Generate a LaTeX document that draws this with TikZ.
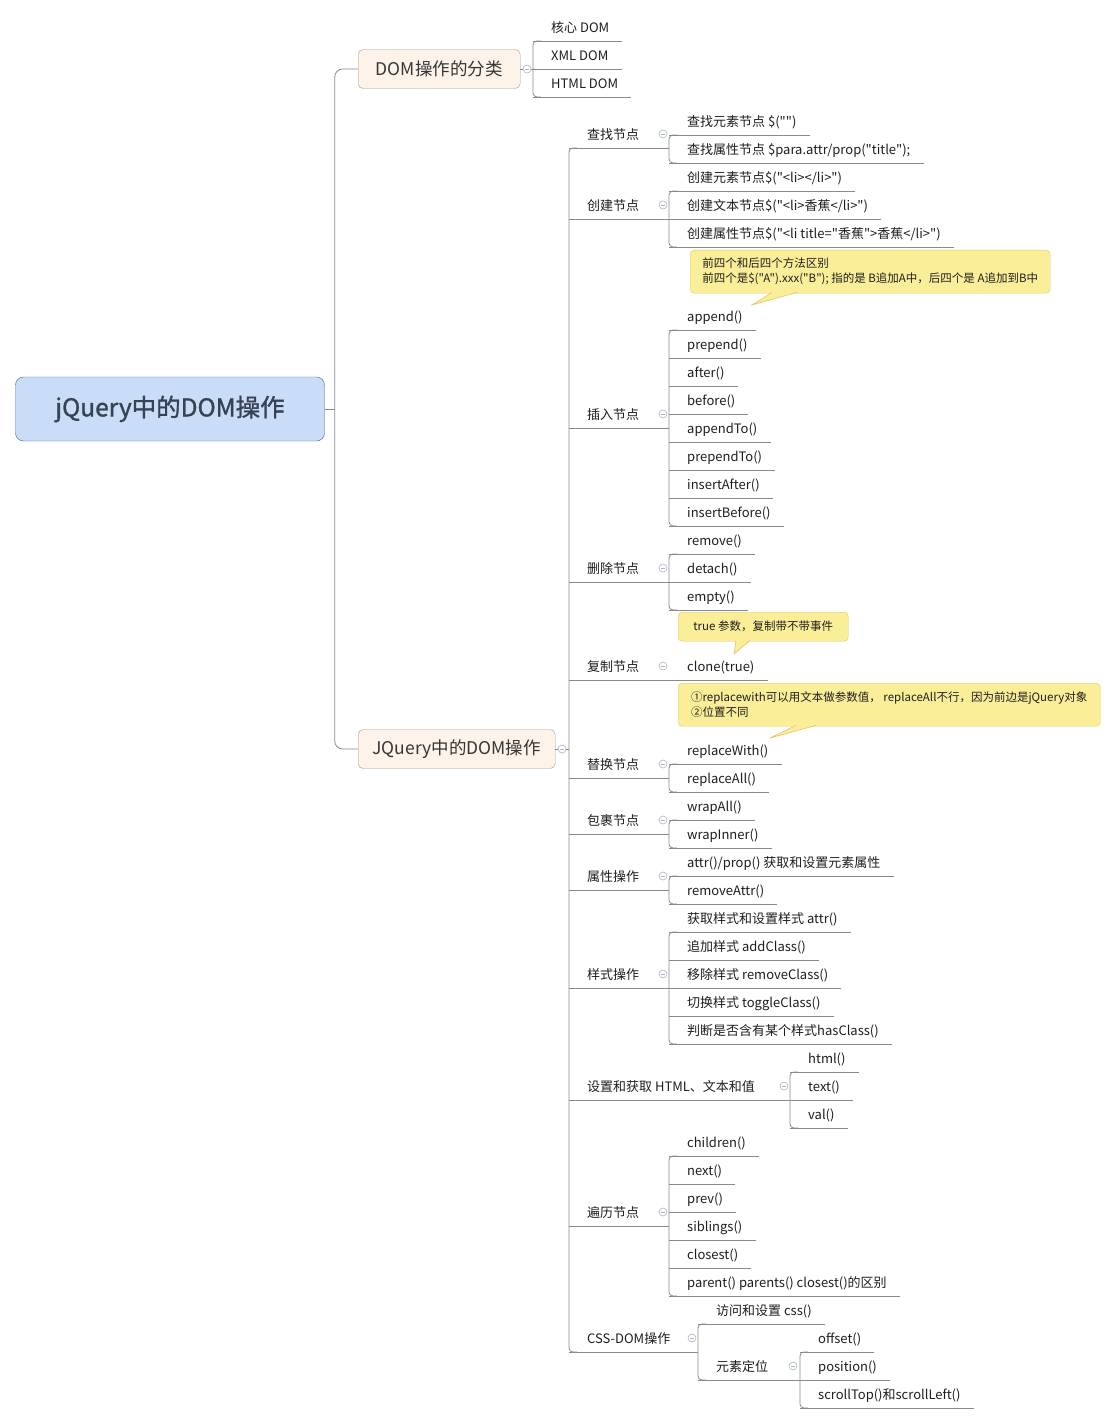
\documentclass[tikz,border=0pt]{standalone}
\usepackage{fontspec}
\usepackage{xcolor}
\newfontfamily\cjk{Noto Sans CJK SC}
\newfontfamily\cjkheavy{Noto Sans CJK SC}[FakeBold=1.2]
\definecolor{linegray}{RGB}{138,138,138}
\definecolor{rootfill}{RGB}{201,221,248}
\definecolor{rootline}{RGB}{74,99,131}
\definecolor{roottext}{RGB}{55,66,82}
\definecolor{branchfill}{RGB}{253,243,232}
\definecolor{branchline}{RGB}{165,155,145}
\definecolor{notefill}{RGB}{251,238,152}
\definecolor{noteline}{RGB}{232,195,106}
\definecolor{foldblue}{RGB}{168,180,204}
\definecolor{ink}{RGB}{30,30,30}
\newcommand{\childbar}[2]{\draw[link,rounded corners=4pt] ([xshift=8pt]#1.south west) -- (#1.south west) -- (#2.south west) -- ([xshift=8pt]#2.south west);}
\tikzstyle{link}=[draw=linegray, line width=0.8pt]
\tikzstyle{root}=[draw=rootline, fill=rootfill, rounded corners=8pt, minimum width=309pt, minimum height=64pt, text=roottext, font=\cjkheavy\fontsize{24.5}{28}\selectfont]
\tikzstyle{branch}=[draw=branchline, fill=branchfill, rounded corners=5pt, anchor=west, minimum height=39pt, text=ink!90, font=\cjk\fontsize{17.5}{20}\selectfont]
\tikzstyle{leaf}=[anchor=south west, inner xsep=0pt, inner ysep=0pt, text height=12pt, text depth=8pt, text=ink, font=\cjk\fontsize{13}{15}\selectfont, execute at begin node=\hspace*{18pt}, execute at end node=\hspace*{13pt}, append after command={(\tikzlastnode.south west) edge[link] (\tikzlastnode.south east)}]
\tikzstyle{topic}=[leaf, execute at end node=\hspace*{10pt}]
\tikzstyle{note}=[draw=noteline, fill=notefill, rounded corners=4pt, anchor=north west, align=left, inner xsep=10pt, text=ink, font=\cjk\fontsize{11.5}{15}\selectfont]
\tikzstyle{callout}=[fill=notefill, draw=noteline, line width=0.6pt]
\tikzstyle{fold}=[circle, draw=foldblue, fill=white, minimum size=8pt, inner sep=0pt, line width=0.6pt, path picture={\draw[foldblue,line width=0.6pt] ([xshift=-2pt]path picture bounding box.center) -- ([xshift=2pt]path picture bounding box.center);}]

\begin{document}
\begin{tikzpicture}[x=1pt,y=-1pt]
  \useasboundingbox[fill=white] (0,0) rectangle (1117,1423);

  \draw (170,409) node[root] (root) {jQuery中的DOM操作};
  \draw (358,69) node[branch,minimum width=162pt] (B1) {DOM操作的分类};
  \draw (358,749) node[branch,minimum width=197pt] (B2) {JQuery中的DOM操作};

  \draw[link] (root.east) -- ++(10,0);
  \draw[link,rounded corners=8pt] (B1.west) -| ([xshift=10pt]root.east) |- (B2.west);

  %% DOM kinds
  \draw (533,41) node[leaf] (K1) {核心 DOM};
  \draw (533,69) node[leaf] (K2) {XML DOM};
  \draw (533,97) node[leaf] (K3) {HTML DOM};
  \childbar{K1}{K3}
  \draw[link] (B1.east) -- (B1.east -| K1.south west);

  %% Topics
  \draw (569,148) node[topic] (T1) {查找节点};
  \draw (569,219) node[topic] (T2) {创建节点};
  \draw (569,428) node[topic] (T3) {插入节点};
  \draw (569,582) node[topic] (T4) {删除节点};
  \draw (569,680) node[topic] (T5) {复制节点};
  \draw (569,778) node[topic] (T6) {替换节点};
  \draw (569,834) node[topic] (T7) {包裹节点};
  \draw (569,890) node[topic] (T8) {属性操作};
  \draw (569,988) node[topic] (T9) {样式操作};
  \draw (569,1100) node[topic] (T10) {设置和获取 HTML、文本和值};
  \draw (569,1226) node[topic] (T11) {遍历节点};
  \draw (569,1352) node[topic] (T12) {CSS-DOM操作};
  \childbar{T1}{T12}
  \draw[link] (B2.east) -- (B2.east -| T1.south west);

  \draw (669,135) node[leaf] (C11) {查找元素节点 \$("")};
  \draw (669,163) node[leaf] (C12) {查找属性节点 \$para.attr/prop("title");};
  \childbar{C11}{C12}
  \draw[link] (T1.south east) -- (T1.south east -| C11.south west);

  \draw (669,191) node[leaf] (C21) {创建元素节点\$("<li></li>")};
  \draw (669,219) node[leaf] (C22) {创建文本节点\$("<li>香蕉</li>")};
  \draw (669,247) node[leaf] (C23) {创建属性节点\$("<li title="香蕉">香蕉</li>")};
  \childbar{C21}{C23}
  \draw[link] (T2.south east) -- (T2.south east -| C21.south west);

  \draw (669,330) node[leaf] (C31) {append()};
  \draw (669,358) node[leaf] (C32) {prepend()};
  \draw (669,386) node[leaf] (C33) {after()};
  \draw (669,414) node[leaf] (C34) {before()};
  \draw (669,442) node[leaf] (C35) {appendTo()};
  \draw (669,470) node[leaf] (C36) {prependTo()};
  \draw (669,498) node[leaf] (C37) {insertAfter()};
  \draw (669,526) node[leaf] (C38) {insertBefore()};
  \childbar{C31}{C38}
  \draw[link] (T3.south east) -- (T3.south east -| C31.south west);

  \draw (669,554) node[leaf] (C41) {remove()};
  \draw (669,582) node[leaf] (C42) {detach()};
  \draw (669,610) node[leaf] (C43) {empty()};
  \childbar{C41}{C43}
  \draw[link] (T4.south east) -- (T4.south east -| C41.south west);

  \draw (669,680) node[leaf] (C51) {clone(true)};
  \draw[link] (T5.south east) -- (C51.south west);

  \draw (669,764) node[leaf] (C61) {replaceWith()};
  \draw (669,792) node[leaf] (C62) {replaceAll()};
  \childbar{C61}{C62}
  \draw[link] (T6.south east) -- (T6.south east -| C61.south west);

  \draw (669,820) node[leaf] (C71) {wrapAll()};
  \draw (669,848) node[leaf] (C72) {wrapInner()};
  \childbar{C71}{C72}
  \draw[link] (T7.south east) -- (T7.south east -| C71.south west);

  \draw (669,876) node[leaf] (C81) {attr()/prop() 获取和设置元素属性};
  \draw (669,904) node[leaf] (C82) {removeAttr()};
  \childbar{C81}{C82}
  \draw[link] (T8.south east) -- (T8.south east -| C81.south west);

  \draw (669,932) node[leaf] (C91) {获取样式和设置样式 attr()};
  \draw (669,960) node[leaf] (C92) {追加样式 addClass()};
  \draw (669,988) node[leaf] (C93) {移除样式 removeClass()};
  \draw (669,1016) node[leaf] (C94) {切换样式 toggleClass()};
  \draw (669,1044) node[leaf] (C95) {判断是否含有某个样式hasClass()};
  \childbar{C91}{C95}
  \draw[link] (T9.south east) -- (T9.south east -| C91.south west);

  \draw (790,1072) node[leaf] (C101) {html()};
  \draw (790,1100) node[leaf] (C102) {text()};
  \draw (790,1128) node[leaf] (C103) {val()};
  \childbar{C101}{C103}
  \draw[link] (T10.south east) -- (T10.south east -| C101.south west);

  \draw (669,1156) node[leaf] (C111) {children()};
  \draw (669,1184) node[leaf] (C112) {next()};
  \draw (669,1212) node[leaf] (C113) {prev()};
  \draw (669,1240) node[leaf] (C114) {siblings()};
  \draw (669,1268) node[leaf] (C115) {closest()};
  \draw (669,1296) node[leaf] (C116) {parent() parents() closest()的区别};
  \childbar{C111}{C116}
  \draw[link] (T11.south east) -- (T11.south east -| C111.south west);

  \draw (698,1324) node[leaf] (C121) {访问和设置 css()};
  \draw (698,1380) node[topic] (C122) {元素定位};
  \childbar{C121}{C122}
  \draw[link] (T12.south east) -- (T12.south east -| C121.south west);

  \draw (800,1352) node[leaf] (D1) {offset()};
  \draw (800,1380) node[leaf] (D2) {position()};
  \draw (800,1408) node[leaf] (D3) {scrollTop()和scrollLeft()};
  \childbar{D1}{D3}
  \draw[link] (C122.south east) -- (C122.south east -| D1.south west);

  %% Fold marks
  \draw (527,69) node[fold] (F0) {};
  \draw (562,749) node[fold] (F1) {};
  \draw (663,134) node[fold] (F2) {};
  \draw (663,205) node[fold] (F3) {};
  \draw (663,414) node[fold] (F4) {};
  \draw (663,568) node[fold] (F5) {};
  \draw (663,666) node[fold] (F6) {};
  \draw (663,764) node[fold] (F7) {};
  \draw (663,820) node[fold] (F8) {};
  \draw (663,876) node[fold] (F9) {};
  \draw (663,974) node[fold] (F10) {};
  \draw (784,1086) node[fold] (F11) {};
  \draw (663,1212) node[fold] (F12) {};
  \draw (692,1338) node[fold] (F13) {};
  \draw (793,1366) node[fold] (F14) {};

  %% Notes
  \draw (690,250) node[note,minimum width=360pt,minimum height=43pt] (N1) {前四个和后四个方法区别\\前四个是\$("A").xxx("B"); 指的是 B追加A中，后四个是 A追加到B中};
  \coordinate (N1tip) at (752,305);
  \filldraw[callout] ([xshift=82pt,yshift=1pt]N1.south west) -- (N1tip) -- ([xshift=107pt,yshift=1pt]N1.south west);

  \draw (678,612) node[note,minimum width=170pt,minimum height=29pt] (N2) {true 参数，复制带不带事件};
  \coordinate (N2tip) at (734,654);
  \filldraw[callout] ([xshift=58pt,yshift=1pt]N2.south west) -- (N2tip) -- ([xshift=72pt,yshift=1pt]N2.south west);

  \draw (678,683) node[note,minimum width=422pt,minimum height=43pt] (N3) {①replacewith可以用文本做参数值， replaceAll不行，因为前边是jQuery对象\\②位置不同};
  \coordinate (N3tip) at (770,738);
  \filldraw[callout] ([xshift=118pt,yshift=1pt]N3.south west) -- (N3tip) -- ([xshift=138pt,yshift=1pt]N3.south west);
\end{tikzpicture}
\end{document}
